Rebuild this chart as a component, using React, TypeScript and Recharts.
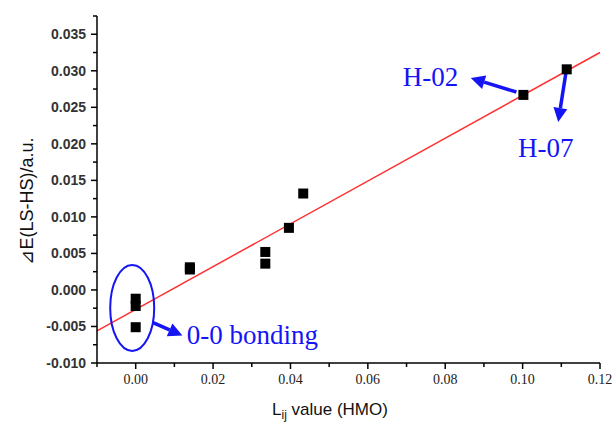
import React from 'react';
import {
  ScatterChart,
  Scatter,
  XAxis,
  YAxis,
  ReferenceLine,
  ReferenceDot,
} from 'recharts';

// measured points: Lij value (HMO) vs dE(LS-HS)
const lijValues = [0, 0, 0, 0.014, 0.014, 0.0335, 0.0335, 0.0396, 0.0433, 0.1002, 0.1114];
const deltaE = [-0.0012, -0.0022, -0.0051, 0.0028, 0.0031, 0.0052, 0.0036, 0.0085, 0.0132, 0.0267, 0.0302];

// linear fit end points
const fitX = [-0.01, 0.12];
const fitY = [-0.0056, 0.0325];

const xMajor = [0, 0.02, 0.04, 0.06, 0.08, 0.1, 0.12];
const xMinor = [-0.01, 0.01, 0.03, 0.05, 0.07, 0.09, 0.11];
const yMajor = [-0.01, -0.005, 0, 0.005, 0.01, 0.015, 0.02, 0.025, 0.03, 0.035];
const yMinor = [-0.0075, -0.0025, 0.0025, 0.0075, 0.0125, 0.0175, 0.0225, 0.0275, 0.0325, 0.0375];

const points = lijValues.map((x, i) => ({ x, y: deltaE[i] }));

const BLUE = '#1414f5';
const isMajor = (v: number, list: number[]) => list.some((m) => Math.abs(m - v) < 1e-9);

const XTick = (props: any) => {
  const { x, y, payload } = props;
  const major = isMajor(payload.value, xMajor);
  return (
    <g>
      <line x1={x} x2={x} y1={y - 8} y2={y - 8 + (major ? 6 : 4)} stroke="#000" strokeWidth={1.5} />
      {major && (
        <text x={x} y={y + 13} textAnchor="middle" fontFamily="Liberation Serif" fontSize={14} fill="#222">
          {payload.value.toFixed(2)}
        </text>
      )}
    </g>
  );
};

const YTick = (props: any) => {
  const { x, y, payload } = props;
  const major = isMajor(payload.value, yMajor);
  return (
    <g>
      <line x1={x + 8} x2={x + 8 - (major ? 6 : 4)} y1={y} y2={y} stroke="#000" strokeWidth={1.5} />
      {major && (
        <text x={x - 3} y={y + 5} textAnchor="end" fontFamily="Liberation Sans" fontWeight="bold" fontSize={14} fill="#333">
          {payload.value.toFixed(3)}
        </text>
      )}
    </g>
  );
};

const Square = (props: any) => (
  <rect x={props.cx - 5} y={props.cy - 5} width={10} height={10} fill="#000" />
);

const Arrow = (props: any) => {
  const { x1, y1, x2, y2 } = props;
  const a = Math.atan2(y2 - y1, x2 - x1);
  const len = 14;
  const w = 7;
  const bx = x2 - len * Math.cos(a);
  const by = y2 - len * Math.sin(a);
  const px = -Math.sin(a) * w;
  const py = Math.cos(a) * w;
  return (
    <g>
      <line x1={x1} y1={y1} x2={bx} y2={by} stroke={BLUE} strokeWidth={3.5} />
      <polygon points={`${x2},${y2} ${bx + px},${by + py} ${bx - px},${by - py}`} fill={BLUE} />
    </g>
  );
};

const labelShape = (text: string) => (props: any) => (
  <text x={props.cx} y={props.cy} dominantBaseline="central" fontFamily="Liberation Serif" fontSize={27} fill={BLUE}>
    {text}
  </text>
);

const Ellipse = (props: any) => (
  <ellipse cx={props.cx} cy={props.cy} rx={22} ry={43} fill="none" stroke={BLUE} strokeWidth={2} />
);

export default function App() {
  return (
    <div style={{ position: 'absolute', left: 0, top: 0, width: 616, height: 427, background: '#fff' }}>
      <ScatterChart width={616} height={427} margin={{ top: 16, right: 16, left: 0, bottom: 0 }}>
        <XAxis
          type="number"
          dataKey="x"
          domain={[-0.01, 0.12]}
          ticks={[...xMinor, ...xMajor].sort((a, b) => a - b)}
          interval={0}
          height={64}
          tickLine={false}
          tick={<XTick />}
          stroke="#000"
          strokeWidth={1.5}
        />
        <YAxis
          type="number"
          dataKey="y"
          domain={[-0.01, 0.0375]}
          ticks={[...yMinor, ...yMajor].sort((a, b) => a - b)}
          interval={0}
          width={97}
          tickLine={false}
          tick={<YTick />}
          stroke="#000"
          strokeWidth={1.5}
        />
        <ReferenceLine
          segment={[{ x: fitX[0], y: fitY[0] }, { x: fitX[1], y: fitY[1] }]}
          stroke="#ff3030"
          strokeWidth={1.5}
        />
        <Scatter data={points} shape={<Square />} isAnimationActive={false} />
        <ReferenceDot x={-0.0009} y={-0.00246} shape={<Ellipse />} />
        <ReferenceLine segment={[{ x: 0.0984, y: 0.02709 }, { x: 0.0866, y: 0.029 }]} shape={<Arrow />} />
        <ReferenceLine segment={[{ x: 0.1112, y: 0.02978 }, { x: 0.1092, y: 0.023 }]} shape={<Arrow />} />
        <ReferenceLine segment={[{ x: 0.00447, y: -0.00447 }, { x: 0.01208, y: -0.00624 }]} shape={<Arrow />} />
        <ReferenceDot x={0.069} y={0.0291} shape={labelShape('H-02')} />
        <ReferenceDot x={0.0988} y={0.0194} shape={labelShape('H-07')} />
        <ReferenceDot x={0.0132} y={-0.00615} shape={labelShape('0-0 bonding')} />
      </ScatterChart>
      <div
        style={{
          position: 'absolute',
          left: 27,
          top: 201,
          transform: 'translate(-50%, -50%) rotate(-90deg)',
          whiteSpace: 'nowrap',
          fontFamily: 'Liberation Sans, Arial, sans-serif',
          fontSize: 18,
          color: '#111',
        }}
      >
        ⊿E(LS-HS)/a.u.
      </div>
      <div
        style={{
          position: 'absolute',
          left: 272,
          top: 400,
          whiteSpace: 'nowrap',
          fontFamily: 'Liberation Sans, Arial, sans-serif',
          fontSize: 17,
          color: '#111',
        }}
      >
        L<sub style={{ fontSize: 12 }}>ij</sub> value (HMO)
      </div>
    </div>
  );
}
